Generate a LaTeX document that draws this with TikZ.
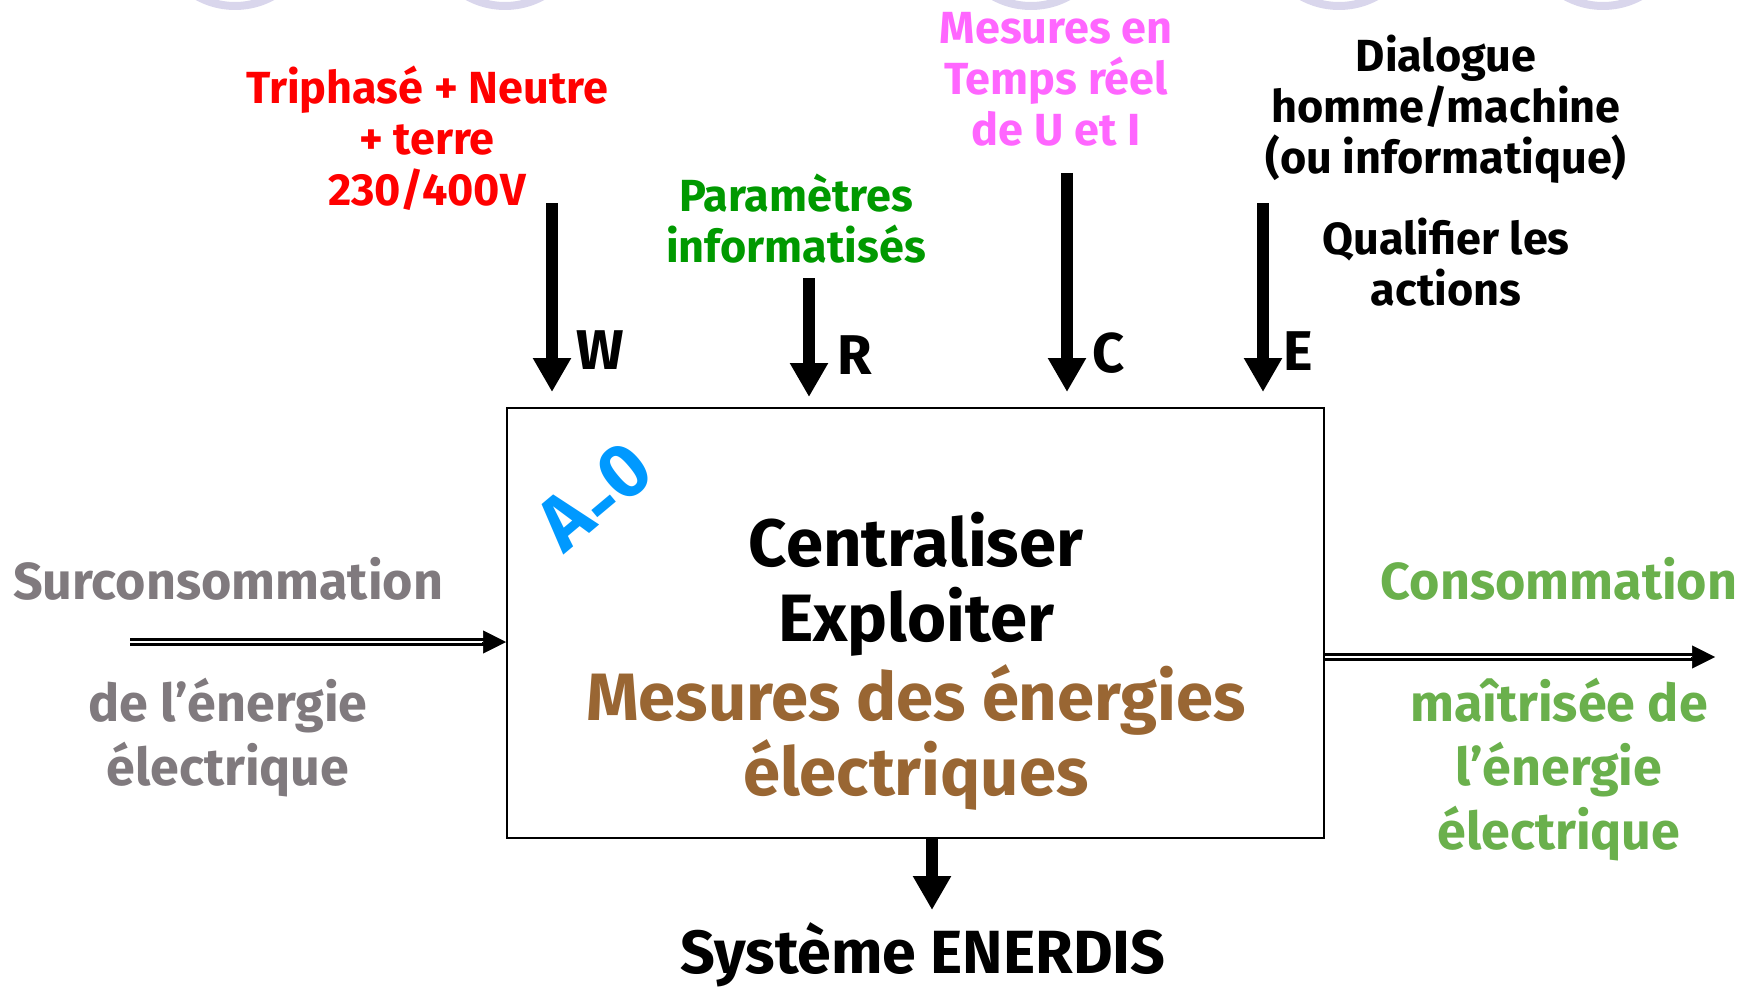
\documentclass[tikz,border=0pt]{standalone}
\usepackage{fontspec}
\setmainfont{Fira Sans}
\usepackage{tikz}
\usetikzlibrary{arrows.meta, calc}

\definecolor{rouge}{RGB}{255,0,0}
\definecolor{vertparam}{RGB}{0,153,0}
\definecolor{magenta}{RGB}{255,102,255}
\definecolor{gris}{RGB}{128,122,126}
\definecolor{vertconso}{RGB}{106,176,76}
\definecolor{brun}{RGB}{153,102,51}
\definecolor{bleu}{RGB}{0,153,255}
\definecolor{lavande}{RGB}{217,214,236}

\begin{document}
\begin{tikzpicture}[x=1pt, y=-1pt,
    every node/.style={align=center, inner sep=0pt},
    ring/.style={draw=lavande, line width=8pt},
    toptxt/.style={font=\fontsize{45}{51}\selectfont\bfseries},
    sidetxt/.style={font=\fontsize{52}{64}\selectfont\bfseries},
    boxtxt/.style={font=\fontsize{67}{75}\selectfont\bfseries},
    lettre/.style={font=\fontsize{56}{60}\selectfont\bfseries},
    fleche/.style={line width=12pt, -{Triangle[width=36pt,length=34pt]}},
    dbl/.style={double, double distance=2.5pt, line width=2.5pt},
    pointe/.style={line width=0.5pt, -{Triangle[width=23pt,length=23pt]}}]

    \useasboundingbox (0,0) rectangle (1752,987);

    \begin{scope}
        \clip (0,0) rectangle (1752,987);
        \foreach \cx in {235,505,1031,1339,1603}
            \draw[ring] (\cx,-72) circle (78pt);
    \end{scope}

    \node[draw, line width=2pt, minimum width=817pt, minimum height=430pt] (fonction) at (915.5,623) {};
    \node[boxtxt] (verbes) at (916,584.5) {Centraliser\\Exploiter};
    \node[boxtxt, text=brun] (objet) at (916,737.5) {Mesures des énergies\\électriques};
    \node[rotate=40, text=bleu, font=\fontsize{76}{80}\selectfont\bfseries] (numero) at (598,500) {A\raisebox{-0.3ex}{-}0};

    \node[toptxt, text=rouge] (energie) at (427,138.5) {Triphasé + Neutre\\+ terre\\230/400V};
    \node[toptxt, text=vertparam] (param) at (796,219) {Paramètres\\informatisés};
    \node[toptxt, text=magenta] (mesures) at (1056,79) {Mesures en\\Temps réel\\de U et I};
    \node[toptxt] (dialogue) at (1446,109) {Dialogue\\homme/machine\\(ou informatique)};
    \node[toptxt] (qualifier) at (1446,262.5) {Qualifier les\\actions};

    \coordinate (wTail) at (552,203);
    \coordinate (rTail) at (809,278);
    \coordinate (cTail) at (1067,173);
    \coordinate (eTail) at (1263,203);
    \draw[fleche, shorten >=15pt] (wTail) -- (wTail |- fonction.north);
    \draw[fleche, shorten >=10pt] (rTail) -- (rTail |- fonction.north);
    \draw[fleche, shorten >=15pt] (cTail) -- (cTail |- fonction.north);
    \draw[fleche, shorten >=15pt] (eTail) -- (eTail |- fonction.north);
    \node[lettre] (lw) at (600,350) {W};
    \node[lettre] (lr) at (855,355) {R};
    \node[lettre] (lc) at (1109,353) {C};
    \node[lettre] (le) at (1298,351) {E};

    \node[sidetxt, text=gris] (surconso) at (228,579) {Surconsommation};
    \node[sidetxt, text=gris] (surconsoSuite) at (228,738) {de l’énergie\\électrique};
    \coordinate (inTail) at (130,642);
    \coordinate (inHead) at (inTail -| fonction.west);
    \draw[dbl, shorten >=22pt] (inTail) -- (inHead);
    \draw[pointe] ([xshift=-24pt]inHead) -- (inHead);

    \node[sidetxt, text=vertconso] (conso) at (1559,579) {Consommation};
    \node[sidetxt, text=vertconso] (consoSuite) at (1559,770) {maîtrisée de\\l’énergie\\électrique};
    \coordinate (outHead) at (1715,657);
    \coordinate (outTail) at (fonction.east |- outHead);
    \draw[dbl, shorten >=22pt] (outTail) -- (outHead);
    \draw[pointe] ([xshift=-24pt]outHead) -- (outHead);

    \coordinate (mecaHead) at (932,910);
    \draw[fleche] (fonction.south -| mecaHead) -- (mecaHead);
    \node[font=\fontsize{61}{64}\selectfont\bfseries] (systeme) at (923,955) {Système ENERDIS};
\end{tikzpicture}
\end{document}
